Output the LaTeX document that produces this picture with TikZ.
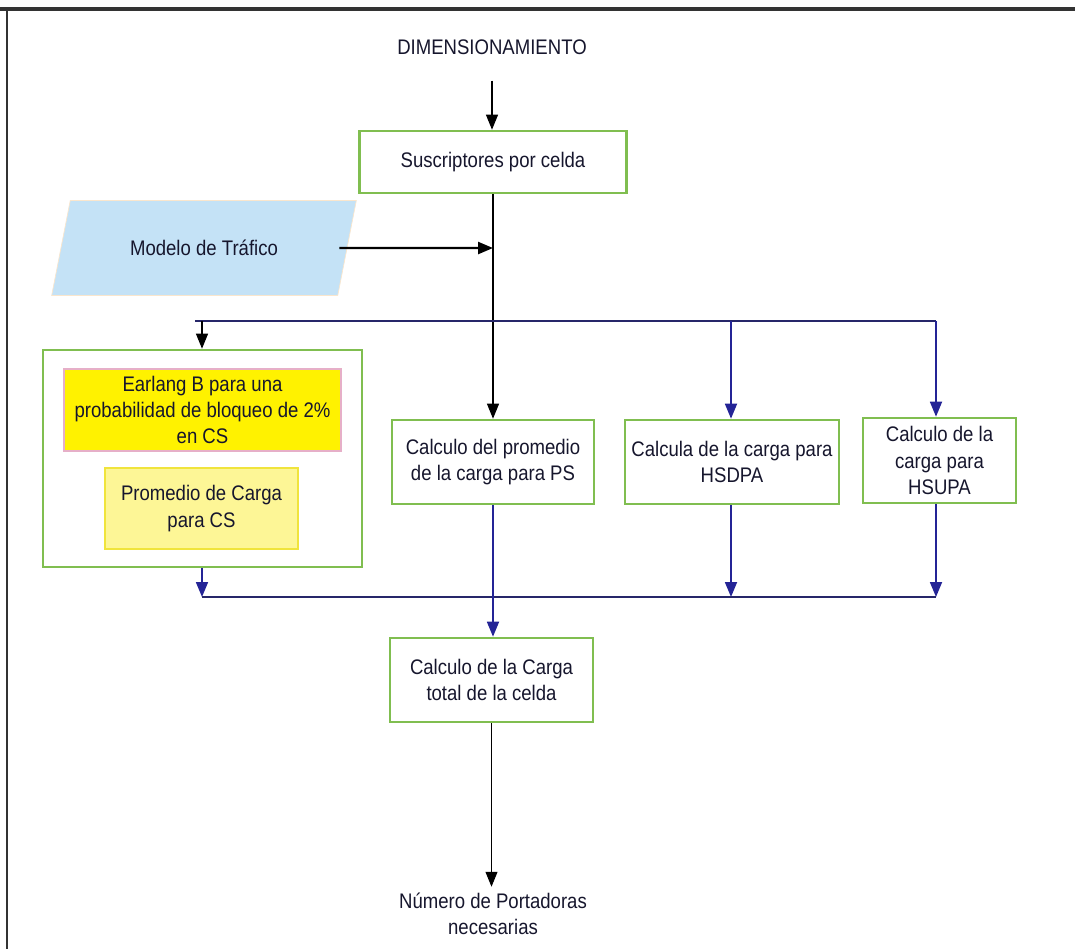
\documentclass[tikz,border=0pt]{standalone}
\usepackage{fontspec}
\setmainfont{Liberation Sans}[FakeStretch=0.88]
\usetikzlibrary{arrows.meta,shapes.geometric}
\definecolor{boxgreen}{RGB}{128,190,80}
\definecolor{busblue}{RGB}{38,38,105}
\definecolor{arrblue}{RGB}{36,36,150}
\definecolor{trafblue}{RGB}{196,226,246}
\definecolor{trafedge}{RGB}{250,230,205}
\definecolor{txtcol}{RGB}{22,22,45}
\definecolor{erlpink}{RGB}{230,175,200}
\definecolor{promfill}{RGB}{253,246,150}
\definecolor{promedge}{RGB}{240,228,60}
\begin{document}
\begin{tikzpicture}[
x=0.2mm, y=-0.2mm,
every node/.style={font=\fontsize{12pt}{15pt}\selectfont, text=txtcol, align=center},
box/.style={draw=boxgreen, line width=1.5pt, fill=white},
tip/.style={-{Triangle[length=3mm,width=2.4mm]}},
blk/.style={tip, black, line width=0.6pt},
blu/.style={tip, arrblue, line width=1pt}
]
\useasboundingbox (0,0) rectangle (1075,949);
% frame
\draw[line width=2pt, black!80] (0,9) -- (1075,9);
\draw[line width=1.4pt, black!80] (7,9) -- (7,949);

% nodes
\node (dim) at (492,47) {DIMENSIONAMIENTO};
\node[box, minimum width=5.34cm, minimum height=1.24cm] (subs) at (493,162) {Suscriptores por celda};
\node[trapezium, trapezium left angle=68, trapezium right angle=112, fill=trafblue, draw=trafedge,
  minimum width=6.1cm, minimum height=1.9cm, trapezium stretches=true] (traf) at (204,248) {Modelo de Tráfico};
\node[box, minimum width=6.38cm, minimum height=4.34cm] (cs) at (202.5,458.5) {};
\node[fill=yellow, draw=erlpink, line width=0.9pt, minimum width=5.54cm, minimum height=1.64cm, inner sep=1pt]
  (erl) at (202.5,410) {Earlang B para una\\probabilidad de bloqueo de 2\%\\en CS};
\node[fill=promfill, draw=promedge, line width=1.5pt, minimum width=3.86cm, minimum height=1.62cm]
  (prom) at (201.5,508.5) {Promedio de Carga\\para CS};
\node[box, minimum width=4.04cm, minimum height=1.68cm] (ps) at (493,462) {Calculo del promedio\\de la carga para PS};
\node[box, minimum width=4.28cm, minimum height=1.68cm] (hsd) at (732,462) {Calcula de la carga para\\HSDPA};
\node[box, minimum width=3.06cm, minimum height=1.70cm] (hsu) at (939.5,460.5) {Calculo de la\\carga para\\HSUPA};
\node[box, minimum width=4.06cm, minimum height=1.68cm] (tot) at (491.5,680) {Calculo de la Carga\\total de la celda};
\node (num) at (493,914) {Número de Portadoras\\necesarias};

% junctions
\coordinate (jt) at (493,248);
\coordinate (topL) at (195,321);
\coordinate (topR) at (936,321);
\coordinate (botL) at (202,597);
\coordinate (botR) at (936,597);

% connectors
\draw[blk, shorten <=4mm] (dim.south) -- (dim.south |- subs.north);
\draw[blk] (subs.south) -- (subs.south |- ps.north);
\draw[tip, black, line width=1.4pt] (traf.east) ++(-8,0) -- (jt);
\draw[busblue, line width=1.5pt] (topL) -- (topR);
\draw[blk] (202,321) -- (202,321 |- cs.north);
\draw[blu] (731,321) -- (731,321 |- hsd.north);
\draw[blu] (topR) -- (topR |- hsu.north);
\draw[blu] (202,321 |- cs.south) -- (botL);
\draw[blu] (731,321 |- hsd.south) -- (731,597);
\draw[blu] (topR |- hsu.south) -- (botR);
\draw[busblue, line width=1.3pt] (botL) -- (botR);
\draw[blu] (ps.south) -- (ps.south |- tot.north);
\draw[blk] (tot.south) -- (tot.south |- num.north);
\end{tikzpicture}
\end{document}
